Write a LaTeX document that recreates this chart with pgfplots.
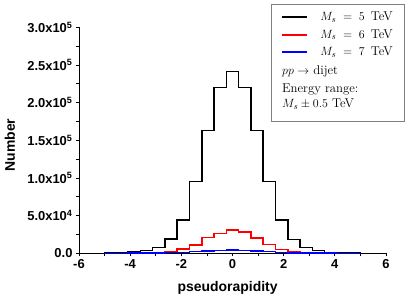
\documentclass[border=0pt]{standalone}
\usepackage{fontspec}
\usepackage{pgfplots}
\pgfplotsset{compat=1.18}
\newfontfamily\arialfont{Liberation Sans}

\pgfplotstableread{
x y
-5.04 200
-4.56 600
-4.08 1700
-3.60 4000
-3.12 8000
-2.64 19000
-2.16 44000
-1.68 95000
-1.20 163000
-0.72 220000
-0.24 241000
0.24 220000
0.72 163000
1.20 95000
1.68 44000
2.16 18600
2.64 7500
3.12 3500
3.60 1200
4.08 500
4.56 200
5.04 200
}\blacktab

\pgfplotstableread{
x y
-5.04 20
-4.56 60
-4.08 150
-3.60 400
-3.12 900
-2.64 2000
-2.16 5700
-1.68 11000
-1.20 21000
-0.72 26600
-0.24 31000
0.24 28000
0.72 20000
1.20 12000
1.68 5300
2.16 2000
2.64 800
3.12 350
3.60 150
4.08 50
4.56 20
5.04 20
}\redtab

\pgfplotstableread{
x y
-5.04 10
-4.56 30
-4.08 80
-3.60 200
-3.12 400
-2.64 800
-2.16 1300
-1.68 2200
-1.20 3000
-0.72 3700
-0.24 4100
0.24 3800
0.72 3000
1.20 2100
1.68 1300
2.16 700
2.64 400
3.12 200
3.60 80
4.08 30
4.56 10
5.04 10
}\bluetab

\begin{document}
\begin{tikzpicture}
\path[use as bounding box] (-79bp,-45.7bp) rectangle (328bp,253.3bp);
\begin{axis}[
  at={(0,0)}, anchor=south west,
  scale only axis,
  width=307bp, height=226bp,
  xmin=-6, xmax=6, ymin=0, ymax=300000,
  axis lines*=left,
  axis line style={line width=0.8bp},
  clip=false,
  tick align=outside,
  major tick length=3bp, minor tick length=3bp,
  every tick/.style={black, line width=0.8bp},
  minor x tick num=1, minor y tick num=1,
  xtick={-6,-4,-2,0,2,4,6},
  xticklabels={-6,-4,-2,0,2,4,6},
  ytick={0,50000,100000,150000,200000,250000,300000},
  yticklabels={0.0,5.0x10\textsuperscript{4},1.0x10\textsuperscript{5},1.5x10\textsuperscript{5},2.0x10\textsuperscript{5},2.5x10\textsuperscript{5},3.0x10\textsuperscript{5}},
  scaled y ticks=false,
  tick label style={font=\arialfont\bfseries\fontsize{13}{15}\selectfont},
  xlabel={pseudorapidity},
  ylabel={Number},
  xlabel style={font=\arialfont\bfseries\fontsize{14}{16}\selectfont, at={(axis description cs:0.484,-0.168)}, anchor=base},
  ylabel style={font=\arialfont\bfseries\fontsize{14}{16}\selectfont, at={(axis description cs:-0.225,0.479)}, anchor=center, rotate=0},
  legend style={at={(axis description cs:1.0586,1.103)}, anchor=north east, draw=none, fill=none,
    inner xsep=11bp, inner ysep=8bp, column sep=12bp, row sep=7bp,
    nodes={inner sep=0pt, font=\fontsize{12.8}{15}\selectfont}},
  legend cell align=left,
]
\addplot[const plot, black, line width=1.5bp, legend image code/.code={\draw[black, line width=2bp] (0bp,0bp) -- (25bp,0bp);}] table[x=x,y=y] {\blacktab};
\addlegendentry{$M_s \;=\; 5$\,\ TeV}
\addplot[const plot, red, line width=1.5bp, legend image code/.code={\draw[red, line width=2bp] (0bp,0bp) -- (25bp,0bp);}] table[x=x,y=y] {\redtab};
\addlegendentry{$M_s \;=\; 6$\,\ TeV}
\addplot[const plot, blue, line width=1.5bp, legend image code/.code={\draw[blue, line width=2bp] (0bp,0bp) -- (25bp,0bp);}] table[x=x,y=y] {\bluetab};
\addlegendentry{$M_s \;=\; 7$\,\ TeV}
\end{axis}
\draw[gray, line width=0.8bp] (192.7bp,132.3bp) rectangle (325bp,249.3bp);
\begin{scope}[every node/.style={anchor=base west, inner sep=0pt, font=\fontsize{12.8}{15}\selectfont}]
\node at (203bp,178.5bp) {$pp \to$ dijet};
\node at (203bp,160.5bp) {Energy range:};
\node at (203bp,145.5bp) {$M_s \pm 0.5$ TeV};
\end{scope}
\end{tikzpicture}
\end{document}
